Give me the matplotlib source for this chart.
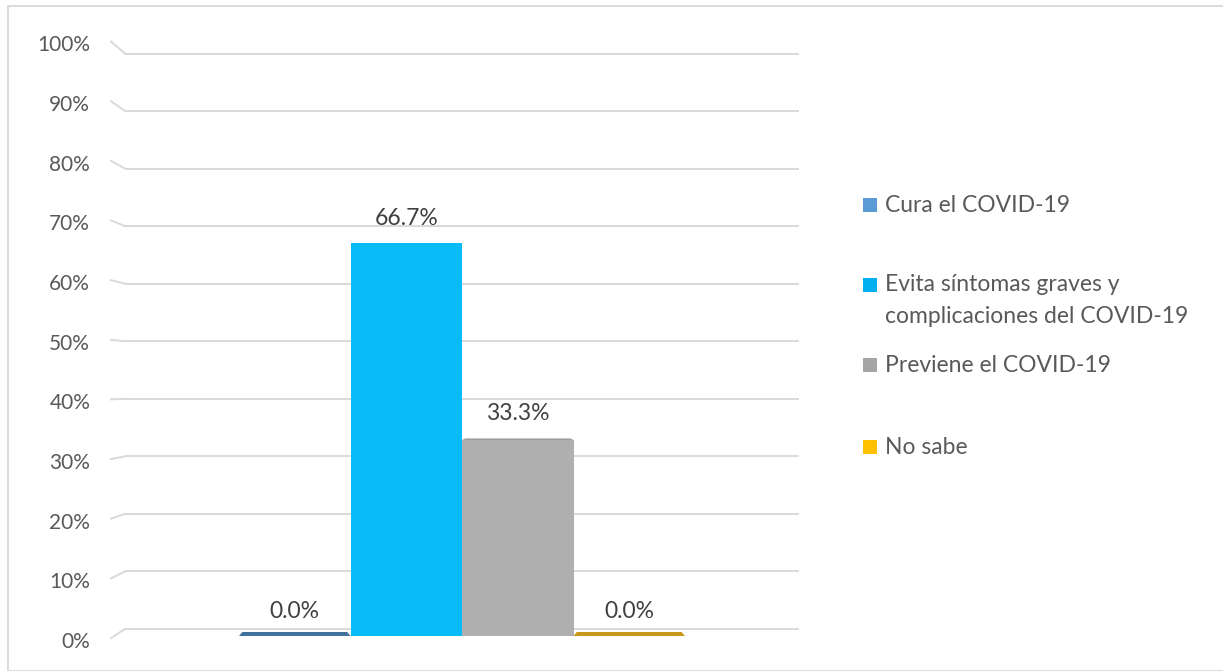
import matplotlib
matplotlib.use("Agg")
import matplotlib.pyplot as plt
from matplotlib.patches import Rectangle, Polygon
from matplotlib.lines import Line2D

# Data
categories = ["Cura el COVID-19",
              "Evita síntomas graves y\ncomplicaciones del COVID-19",
              "Previene el COVID-19",
              "No sabe"]
values = [0.0, 66.7, 33.3, 0.0]
value_labels = ["0.0%", "66.7%", "33.3%", "0.0%"]
tick_values = [0, 10, 20, 30, 40, 50, 60, 70, 80, 90, 100]
tick_labels = [f"{t}%" for t in tick_values]

face_colors = ["#5B9BD5", "#0ABBF9", "#AFAFAF", "#FFC000"]
top_colors = ["#41719C", "#0896C8", "#8C8C8C", "#C8981A"]
legend_colors = ["#5B9BD5", "#00B0F0", "#A5A5A5", "#FFC000"]

W, H = 1223, 671
fig = plt.figure(figsize=(W / 100, H / 100), dpi=100)
plt.rcParams["font.family"] = ["Lato", "DejaVu Sans"]


def px_rect(x0, y0, x1, y1):
    """Axes rectangle in figure fractions from pixel box (top-left origin)."""
    return [x0 / W, 1 - y1 / H, (x1 - x0) / W, (y1 - y0) / H]


def fix_range(lo_val, hi_val, lo_px, hi_px, top_px, bot_px):
    """Axis limits so that lo_val/hi_val land on lo_px/hi_px inside [top_px, bot_px]."""
    k = (hi_val - lo_val) / (lo_px - hi_px)
    bottom = lo_val - (bot_px - lo_px) * k
    top = hi_val + (hi_px - top_px) * k
    return bottom, top


# Outer border
fig.patches.append(Rectangle((8 / W, 0), 1.2, 1 - 6 / H, transform=fig.transFigure,
                             fill=False, edgecolor="#D9D9D9", lw=1.3))

PT, PB = 30, 650  # vertical pixel band for the plot axes
PL, PR = 125, 799

# Back wall: gridlines
wall = fig.add_axes(px_rect(PL, PT, PR, PB))
wall.set_xlim(0, 1)
wall.set_ylim(*fix_range(0, 100, 629, 53.5, PT, PB))
for t in tick_values:
    wall.axhline(t, color="#D9D9D9", lw=1.4, zorder=1)
wall.axis("off")

# Front edge: value axis labels
front = fig.add_axes(px_rect(111, PT, PL, PB))
front.set_xlim(0, 1)
front.set_ylim(*fix_range(0, 100, 640, 43.5, PT, PB))
front.set_yticks(tick_values)
front.set_yticklabels(tick_labels, fontsize=15, color="#595959")
front.tick_params(axis="y", length=0, pad=15)
front.set_xticks([])
for s in front.spines.values():
    s.set_visible(False)
front.patch.set_alpha(0)

# Floor connectors between the front labels and the back wall
inv = fig.transFigure.inverted()
for t in tick_values:
    p0 = front.transData.transform((0, t))
    p0 = inv.transform((p0[0], p0[1] + 2))
    p1 = inv.transform(wall.transData.transform((0, t)))
    fig.lines.append(Line2D([p0[0], p1[0]], [p0[1], p1[1]], transform=fig.transFigure,
                            color="#D9D9D9", lw=1.4))

# Bars
ax = fig.add_axes(px_rect(PL, PT, PR, PB))
bar_w = 1.0
first_left = 239
xl0 = (PL - first_left) / 111.5 - 0.5
xl1 = (PR - first_left) / 111.5 - 0.5
ax.set_xlim(xl0, xl1)
ax.set_ylim(*fix_range(0, 100, 636, 47, PT, PB))
ax.axis("off")
ax.patch.set_alpha(0)

xs = list(range(len(values)))
ax.bar(xs, values, width=bar_w, color=face_colors, zorder=3)

# Thin top faces seen from above for the lower columns
ppu = (636 - 47) / 100.0  # pixels per percent on the bar scale
for x, v, c in zip(xs, values, top_colors):
    depth_px = max(0.0, 4.0 * (1 - v / 50.0))
    if depth_px <= 0.3:
        continue
    d = depth_px / ppu
    inset = 0.03
    poly = Polygon([(x - 0.5, v), (x + 0.5, v), (x + 0.5 - inset, v + d), (x - 0.5 + inset, v + d)],
                   closed=True, facecolor=c, edgecolor="none", zorder=4)
    ax.add_patch(poly)

# Value labels
label_offsets = [25, 25, 26, 25]
for x, v, lab, off in zip(xs, values, value_labels, label_offsets):
    ax.annotate(lab, (x, v), xytext=(0, off * 0.72), textcoords="offset points",
                ha="center", va="center", fontsize=16.5, color="#404040", zorder=5)

# Legend
legend_rows = [205, 285, 365, 447]
line_step = 32
for lab, col, yc in zip(categories, legend_colors, legend_rows):
    fig.patches.append(Rectangle((863 / W, 1 - (yc + 7) / H), 14 / W, 14 / H,
                                 transform=fig.transFigure, facecolor=col, edgecolor="none"))
    for i, part in enumerate(lab.split("\n")):
        fig.text(885 / W, 1 - (yc + i * line_step) / H, part, ha="left", va="center",
                 fontsize=16.5, color="#595959")

fig.savefig("out.png", dpi=100)
